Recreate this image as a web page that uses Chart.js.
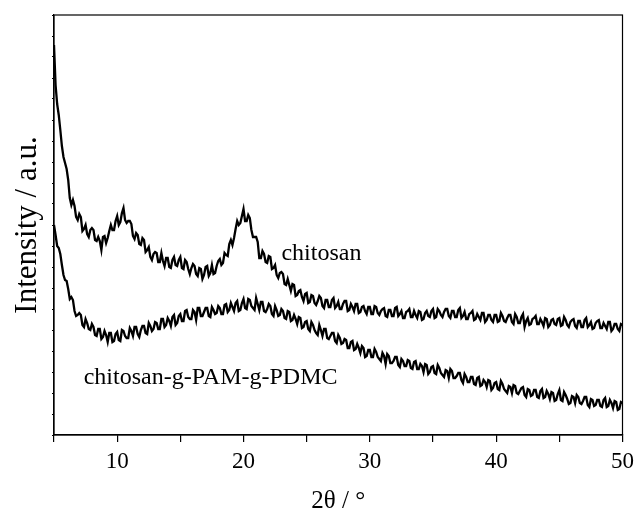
<!DOCTYPE html>
<html>
<head>
<meta charset="utf-8">
<script src="https://cdn.jsdelivr.net/npm/chart.js@4.4.1/dist/chart.umd.min.js"></script>
<style>
  html, body { margin: 0; padding: 0; background: #fff; }
  #wrap { width: 640px; height: 523px; }
</style>
</head>
<body>
<div id="wrap"><canvas id="grafico" width="640" height="523"></canvas></div>
<script>
// 2θ (degrees), one row per degree, sampled every 0.125°
const angulos = [
  5,5.125,5.25,5.375,5.5,5.625,5.75,5.875,
  6,6.125,6.25,6.375,6.5,6.625,6.75,6.875,
  7,7.125,7.25,7.375,7.5,7.625,7.75,7.875,
  8,8.125,8.25,8.375,8.5,8.625,8.75,8.875,
  9,9.125,9.25,9.375,9.5,9.625,9.75,9.875,
  10,10.125,10.25,10.375,10.5,10.625,10.75,10.875,
  11,11.125,11.25,11.375,11.5,11.625,11.75,11.875,
  12,12.125,12.25,12.375,12.5,12.625,12.75,12.875,
  13,13.125,13.25,13.375,13.5,13.625,13.75,13.875,
  14,14.125,14.25,14.375,14.5,14.625,14.75,14.875,
  15,15.125,15.25,15.375,15.5,15.625,15.75,15.875,
  16,16.125,16.25,16.375,16.5,16.625,16.75,16.875,
  17,17.125,17.25,17.375,17.5,17.625,17.75,17.875,
  18,18.125,18.25,18.375,18.5,18.625,18.75,18.875,
  19,19.125,19.25,19.375,19.5,19.625,19.75,19.875,
  20,20.125,20.25,20.375,20.5,20.625,20.75,20.875,
  21,21.125,21.25,21.375,21.5,21.625,21.75,21.875,
  22,22.125,22.25,22.375,22.5,22.625,22.75,22.875,
  23,23.125,23.25,23.375,23.5,23.625,23.75,23.875,
  24,24.125,24.25,24.375,24.5,24.625,24.75,24.875,
  25,25.125,25.25,25.375,25.5,25.625,25.75,25.875,
  26,26.125,26.25,26.375,26.5,26.625,26.75,26.875,
  27,27.125,27.25,27.375,27.5,27.625,27.75,27.875,
  28,28.125,28.25,28.375,28.5,28.625,28.75,28.875,
  29,29.125,29.25,29.375,29.5,29.625,29.75,29.875,
  30,30.125,30.25,30.375,30.5,30.625,30.75,30.875,
  31,31.125,31.25,31.375,31.5,31.625,31.75,31.875,
  32,32.125,32.25,32.375,32.5,32.625,32.75,32.875,
  33,33.125,33.25,33.375,33.5,33.625,33.75,33.875,
  34,34.125,34.25,34.375,34.5,34.625,34.75,34.875,
  35,35.125,35.25,35.375,35.5,35.625,35.75,35.875,
  36,36.125,36.25,36.375,36.5,36.625,36.75,36.875,
  37,37.125,37.25,37.375,37.5,37.625,37.75,37.875,
  38,38.125,38.25,38.375,38.5,38.625,38.75,38.875,
  39,39.125,39.25,39.375,39.5,39.625,39.75,39.875,
  40,40.125,40.25,40.375,40.5,40.625,40.75,40.875,
  41,41.125,41.25,41.375,41.5,41.625,41.75,41.875,
  42,42.125,42.25,42.375,42.5,42.625,42.75,42.875,
  43,43.125,43.25,43.375,43.5,43.625,43.75,43.875,
  44,44.125,44.25,44.375,44.5,44.625,44.75,44.875,
  45,45.125,45.25,45.375,45.5,45.625,45.75,45.875,
  46,46.125,46.25,46.375,46.5,46.625,46.75,46.875,
  47,47.125,47.25,47.375,47.5,47.625,47.75,47.875,
  48,48.125,48.25,48.375,48.5,48.625,48.75,48.875,
  49,49.125,49.25,49.375,49.5,49.625,49.75,49.875,
  50
];

// intensity (a.u.), noise included
const chitosan = [
  390,350,331,320,305,289,278,272,266,255,237,230,235,229,218,215,221,218,204,206,
  210,201,198,205,207,205,195,194,198,194,185,198,199,192,197,204,210,205,205,214,
  219,210,213,222,227,215,212,214,214,211,199,196,202,200,191,190,197,195,183,185,
  188,178,175,181,183,182,173,173,182,174,169,177,177,168,167,175,178,170,169,175,
  178,167,166,175,173,166,161,167,171,169,161,159,167,166,156,160,168,169,159,162,
  170,161,162,169,174,176,170,172,182,180,179,191,195,190,197,206,214,210,212,219,
  226,214,214,220,217,205,198,198,198,193,177,177,184,181,173,172,179,178,166,167,
  170,160,157,162,163,161,151,150,156,150,144,151,150,139,140,144,145,138,134,141,
  142,132,133,140,139,132,130,134,139,137,129,127,135,135,128,128,135,137,127,129,
  133,126,126,131,134,134,124,125,131,128,124,131,131,122,123,128,129,124,121,128,
  128,121,121,129,128,122,120,124,126,127,119,118,125,125,119,119,127,128,119,121,
  124,117,117,123,124,126,118,118,124,120,117,124,123,115,116,122,124,119,118,124,
  126,117,118,126,124,120,118,123,126,126,119,117,124,124,118,118,125,127,117,119,
  123,116,116,121,122,124,115,116,121,118,115,122,122,113,115,120,120,115,113,120,
  120,113,114,122,119,114,113,117,120,120,113,111,121,118,112,112,118,121,108,114,
  117,110,111,116,117,119,111,111,116,113,109,117,116,108,110,115,116,111,110,116,
  117,109,110,118,115,110,108,113,115,116,109,107,114,114,108,108,115,117,108,110,
  113,106,107,112,114,115,107,107,112,109,106,113,113,104,106,111,111,106,104,111,
  110
];

const enxertado = [
  210,200,189,187,181,170,160,155,154,146,136,138,135,124,119,120,122,120,110,108,
  116,112,106,105,111,108,100,99,106,106,96,98,104,100,93,102,102,93,94,101,
  103,95,94,105,104,99,97,97,107,104,99,108,108,101,98,105,109,109,102,101,
  112,109,104,106,113,112,106,106,116,116,108,110,117,114,109,118,120,110,112,119,
  121,114,114,124,125,118,116,116,125,123,115,127,127,119,119,123,127,127,119,118,
  128,125,121,122,129,127,121,121,130,131,123,125,132,128,124,132,134,124,125,132,
  136,127,126,136,135,129,127,125,137,131,125,133,133,124,123,126,131,129,121,119,
  129,125,119,120,126,124,117,116,124,123,114,115,120,116,111,118,117,107,108,113,
  114,106,104,113,110,105,102,100,110,105,99,106,106,97,96,99,102,102,94,92,
  100,97,91,92,96,95,87,87,93,94,85,86,91,87,82,89,87,78,79,85,
  85,78,78,86,83,78,76,74,82,79,71,81,79,72,72,74,78,78,70,68,
  76,74,69,69,75,74,67,66,73,74,66,66,71,69,63,71,70,61,63,68,
  69,62,61,70,67,62,60,58,65,64,57,66,64,57,57,59,62,62,55,52,
  61,58,53,53,58,58,51,50,57,58,49,50,55,53,48,55,54,45,47,52,
  53,46,45,54,51,46,44,42,49,48,42,50,49,42,41,44,47,48,40,38,
  46,45,39,40,45,45,38,37,44,46,37,38,44,41,36,43,42,34,35,41,
  45,35,34,43,40,36,31,32,39,38,32,40,38,32,31,34,38,38,30,28,
  36,35,29,30,35,35,29,28,35,37,28,29,35,32,27,34,33,25,26,33,
  32
];

// curve labels (text, 2θ of left edge, intensity of text middle)
const rotulos = ['chitosan', 'chitosan-g-PAM-g-PDMC'];
const rotuloX = [23.0, 7.35];
const rotuloY = [181, 57];

const serif = '"Liberation Serif", "Times New Roman", serif';

const moldura = {
  id: 'moldura',
  afterDraw(chart) {
    const { ctx, chartArea: a, scales: { x, y } } = chart;
    ctx.save();
    ctx.strokeStyle = '#000';
    ctx.lineWidth = 1.2;
    ctx.strokeRect(a.left, a.top, a.right - a.left, a.bottom - a.top);
    ctx.fillStyle = '#000';
    ctx.font = '24px ' + serif;
    ctx.textBaseline = 'middle';
    ctx.textAlign = 'left';
    rotulos.forEach((t, i) => {
      ctx.fillText(t, x.getPixelForValue(rotuloX[i]), y.getPixelForValue(rotuloY[i]));
    });
    ctx.restore();
  }
};

const serie = (vals) => angulos.map((a, i) => ({ x: a, y: vals[i] }));

const estiloLinha = { borderColor: '#000', borderWidth: 2.3, borderJoinStyle: 'miter', pointRadius: 0, tension: 0 };

new Chart(document.getElementById('grafico').getContext('2d'), {
  type: 'line',
  data: {
    datasets: [
      { label: 'chitosan', data: serie(chitosan), ...estiloLinha },
      { label: 'chitosan-g-PAM-g-PDMC', data: serie(enxertado), ...estiloLinha }
    ]
  },
  options: {
    responsive: false,
    devicePixelRatio: 1,
    animation: false,
    layout: { padding: { top: 15, right: 13, left: 0, bottom: 0 } },
    plugins: { legend: { display: false }, tooltip: { enabled: false } },
    scales: {
      x: {
        type: 'linear',
        min: 5, max: 50,
        afterFit: (s) => { s.height = 88; },
        grid: { drawOnChartArea: false, color: '#000', tickLength: 7, lineWidth: 1.2 },
        border: { color: '#000', width: 1.2 },
        ticks: {
          stepSize: 5, autoSkip: false, maxRotation: 0, padding: 6,
          color: '#000', font: { family: serif, size: 23 },
          callback: (v) => (v % 10 === 0 ? String(v) : '')
        },
        title: { display: true, text: '2θ / °', color: '#000', font: { family: serif, size: 25 }, padding: { top: 0, bottom: 7 } }
      },
      y: {
        min: 0, max: 420,
        afterFit: (s) => { s.width = 54; },
        grid: { drawOnChartArea: false, color: '#000', tickLength: 2, lineWidth: 1 },
        border: { color: '#000', width: 1.2 },
        ticks: { display: false, stepSize: 21 },
        title: { display: true, text: 'Intensity / a.u.', color: '#000', font: { family: serif, size: 31 }, padding: { top: 9, bottom: 0 } }
      }
    }
  },
  plugins: [moldura]
});
</script>
</body>
</html>
